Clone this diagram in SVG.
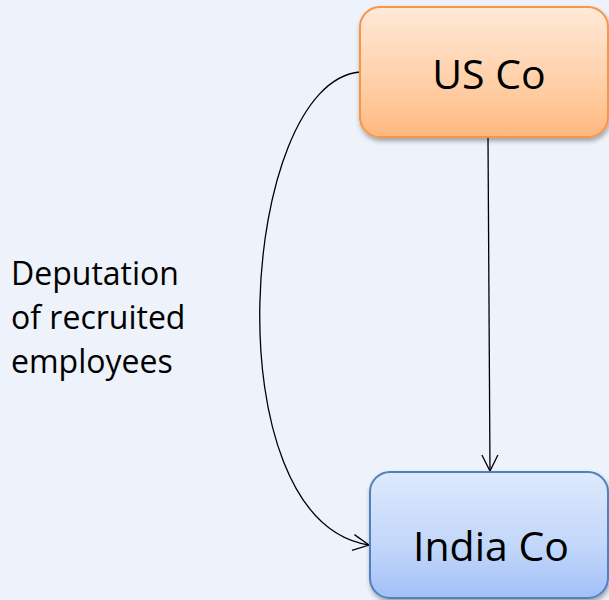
<svg xmlns="http://www.w3.org/2000/svg" width="609" height="600" viewBox="0 0 609 600">
<style>
.lbl{font-family:"Open Sans","Liberation Sans",sans-serif;fill:#000}
.conn{fill:none;stroke:#000;stroke-width:1.3}
</style>
<defs>
<linearGradient id="gOr" x1="0" y1="0" x2="0" y2="1">
<stop offset="0" stop-color="#FFE9D8"/>
<stop offset="0.6" stop-color="#FFCFA6"/>
<stop offset="1" stop-color="#FFB880"/>
</linearGradient>
<linearGradient id="gBl" x1="0" y1="0" x2="0" y2="1">
<stop offset="0" stop-color="#DEE9FC"/>
<stop offset="0.6" stop-color="#C1D6FA"/>
<stop offset="1" stop-color="#A2C0F8"/>
</linearGradient>
<filter id="sh" x="-10%" y="-10%" width="130%" height="130%">
<feGaussianBlur in="SourceAlpha" stdDeviation="2.5"/>
<feOffset dx="1" dy="3"/>
<feComponentTransfer><feFuncA type="linear" slope="0.35"/></feComponentTransfer>
<feMerge><feMergeNode/><feMergeNode in="SourceGraphic"/></feMerge>
</filter>
<marker id="arr" viewBox="0 0 20 20" refX="18" refY="10" markerWidth="20" markerHeight="20" markerUnits="userSpaceOnUse" orient="auto">
<path d="M2,2 L18,10 L2,18" fill="none" stroke="#000" stroke-width="1.3"/>
</marker>
</defs>
<rect x="0" y="0" width="609" height="600" fill="#EEF2FA"/>
<g id="connectors">
<path class="conn" d="M488,138 L490,471" marker-end="url(#arr)"/>
<path class="conn" d="M360,72 C240,82 210,520 369,545" marker-end="url(#arr)"/>
</g>
<g id="us-co">
<rect x="360" y="7" width="248" height="130" rx="20" fill="url(#gOr)" stroke="#F79646" stroke-width="2" filter="url(#sh)"/>
<text class="lbl" x="489" y="89" font-size="41" text-anchor="middle">US Co</text>
</g>
<g id="india-co">
<rect x="370" y="472" width="238" height="126" rx="20" fill="url(#gBl)" stroke="#4F81BD" stroke-width="2" filter="url(#sh)"/>
<text class="lbl" x="491" y="561" font-size="41" text-anchor="middle">India Co</text>
</g>
<g id="label">
<text class="lbl" font-size="32"><tspan x="11" y="285">Deputation</tspan><tspan x="11" y="329">of recruited</tspan><tspan x="11" y="373">employees</tspan></text>
</g>
</svg>
